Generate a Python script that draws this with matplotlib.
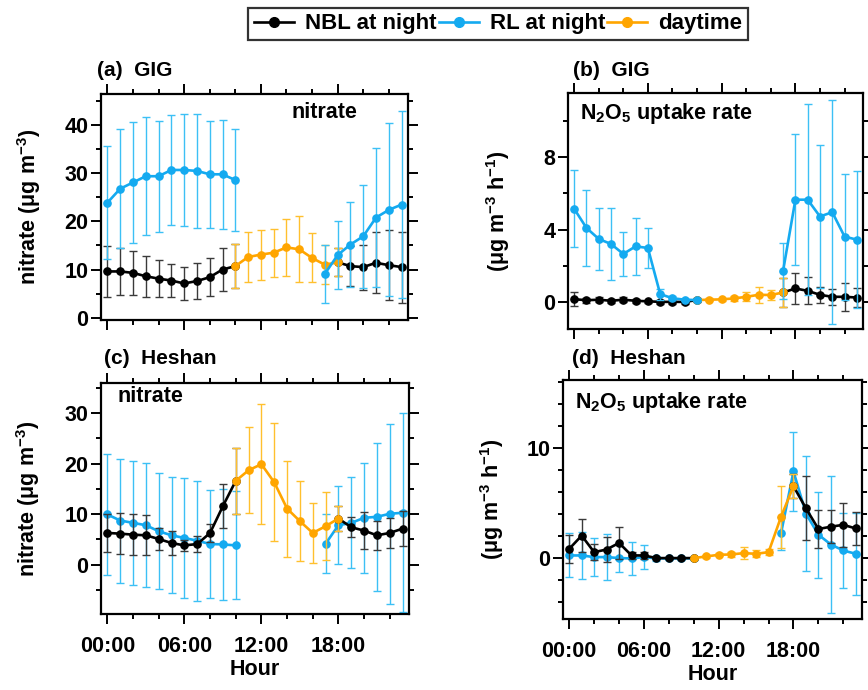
import numpy as np
import matplotlib
matplotlib.use("Agg")
import matplotlib.pyplot as plt
from matplotlib.lines import Line2D
from matplotlib.ticker import MultipleLocator

plt.rcParams["font.family"] = ["Liberation Sans", "DejaVu Sans"]
plt.rcParams["font.weight"] = "bold"
plt.rcParams["axes.labelweight"] = "bold"
plt.rcParams["mathtext.fontset"] = "custom"
plt.rcParams["mathtext.rm"] = "Liberation Sans:bold"
plt.rcParams["mathtext.it"] = "Liberation Sans:bold"
plt.rcParams["mathtext.bf"] = "Liberation Sans:bold"
plt.rcParams["mathtext.sf"] = "Liberation Sans:bold"

nan = np.nan
hours = np.arange(24)

# (a) GIG nitrate
gig_no3_nbl = [9.6, 9.6, 9.3, 8.6, 8.1, 7.7, 7.1, 7.6, 8.4, 10.0, 10.7,
               nan, nan, nan, nan, nan, nan, nan, 11.5, 10.7, 10.5, 11.4, 10.9, 10.5]
gig_no3_nbl_sd = [5.3, 4.8, 4.5, 4.3, 3.8, 3.5, 3.5, 3.8, 4.0, 4.4, 4.6,
                  nan, nan, nan, nan, nan, nan, nan, 2.9, 4.2, 4.7, 6.3, 7.3, 7.4]
gig_no3_rl = [23.9, 26.8, 28.1, 29.4, 29.4, 30.7, 30.7, 30.5, 29.8, 29.8, 28.6,
              nan, nan, nan, nan, nan, nan, 9.1, 13.0, 15.2, 16.9, 20.8, 22.4, 23.5]
gig_no3_rl_sd = [11.8, 12.4, 12.6, 12.3, 11.5, 11.4, 11.7, 11.8, 11.1, 11.3, 10.6,
                 nan, nan, nan, nan, nan, nan, 6.0, 7.1, 8.9, 10.7, 14.4, 18.0, 19.5]
gig_no3_day = [nan] * 10 + [10.7, 12.6, 13.1, 13.5, 14.6, 14.2, 12.4, 11.0, 11.5] + [nan] * 5
gig_no3_day_sd = [nan] * 10 + [4.6, 5.2, 5.2, 5.0, 6.0, 6.9, 5.1, 4.0, 2.9] + [nan] * 5

# (b) GIG N2O5 uptake rate
gig_up_nbl = [0.15, 0.09, 0.12, 0.06, 0.12, 0.06, 0.03, 0.0, 0.0, 0.0, 0.1,
              nan, nan, nan, nan, nan, nan, 0.52, 0.74, 0.61, 0.39, 0.28, 0.28, 0.24]
gig_up_nbl_sd = [0.4, 0.15, 0.15, 0.12, 0.15, 0.1, 0.1, 0.1, 0.1, 0.1, 0.1,
                 nan, nan, nan, nan, nan, nan, 0.8, 0.83, 0.74, 0.46, 0.44, 0.76, 0.5]
gig_up_rl = [5.15, 4.09, 3.48, 3.2, 2.65, 3.07, 2.98, 0.43, 0.2, 0.12, 0.1,
             nan, nan, nan, nan, nan, nan, 1.72, 5.65, 5.65, 4.72, 4.96, 3.61, 3.44]
gig_up_rl_sd = [2.13, 2.08, 1.72, 2.0, 1.2, 1.56, 1.11, 0.3, 0.1, 0.05, 0.05,
                nan, nan, nan, nan, nan, nan, 1.54, 3.63, 5.29, 3.98, 6.2, 3.48, 3.8]
gig_up_day = [nan] * 10 + [0.1, 0.12, 0.14, 0.19, 0.28, 0.39, 0.38, 0.52] + [nan] * 6
gig_up_day_sd = [nan] * 10 + [0.05, 0.08, 0.1, 0.12, 0.25, 0.46, 0.3, 0.82] + [nan] * 6

# (c) Heshan nitrate
hs_no3_nbl = [6.27, 6.13, 5.93, 5.8, 5.07, 4.27, 3.8, 4.07, 6.27, 11.6, 16.6,
              nan, nan, nan, nan, nan, nan, nan, 9.13, 7.4, 6.73, 5.8, 6.27, 7.13]
hs_no3_nbl_sd = [3.8, 4.1, 4.1, 4.0, 2.1, 2.3, 1.1, 1.6, 1.8, 4.3, 6.5,
                 nan, nan, nan, nan, nan, nan, nan, 2.5, 2.0, 3.7, 2.9, 2.9, 3.4]
hs_no3_rl = [9.93, 8.73, 8.27, 7.8, 6.6, 5.8, 5.27, 4.73, 4.07, 4.0, 3.8,
             nan, nan, nan, nan, nan, nan, 4.13, 7.8, 8.27, 9.27, 9.47, 10.07, 10.27]
hs_no3_rl_sd = [11.9, 12.3, 12.3, 12.3, 11.5, 11.5, 11.9, 11.9, 10.7, 11.0, 10.7,
                nan, nan, nan, nan, nan, nan, 5.9, 7.7, 9.0, 10.9, 14.7, 17.8, 19.7]
hs_no3_day = [nan] * 10 + [16.6, 18.7, 19.9, 16.3, 11.1, 8.6, 6.27, 7.6, 9.13] + [nan] * 5
hs_no3_day_sd = [nan] * 10 + [6.5, 8.5, 11.9, 11.7, 9.5, 7.9, 5.9, 6.7, 2.5] + [nan] * 5

# (d) Heshan N2O5 uptake rate
hs_up_nbl = [0.87, 2.07, 0.57, 0.81, 1.41, 0.27, 0.27, 0.03, 0.03, 0.03, 0.03,
             nan, nan, nan, nan, nan, nan, nan, 6.56, 4.55, 2.67, 2.88, 3.05, 2.72]
hs_up_nbl_sd = [1.29, 1.5, 0.75, 1.1, 1.45, 0.3, 0.3, 0.1, 0.1, 0.1, 0.1,
                nan, nan, nan, nan, nan, nan, nan, 1.1, 2.9, 1.7, 1.5, 2.0, 1.5]
hs_up_rl = [0.27, 0.27, 0.12, 0.12, 0.03, 0.0, 0.12, 0.0, 0.0, 0.0, 0.0,
            nan, nan, nan, nan, nan, nan, 2.28, 7.9, 4.07, 2.16, 1.26, 0.72, 0.42]
hs_up_rl_sd = [2.0, 2.1, 1.7, 2.1, 1.3, 1.5, 1.1, 0.2, 0.1, 0.1, 0.1,
               nan, nan, nan, nan, nan, nan, 1.5, 3.6, 5.2, 3.9, 6.2, 3.4, 3.7]
hs_up_day = [nan] * 10 + [0.03, 0.18, 0.33, 0.36, 0.48, 0.42, 0.57, 3.77, 6.56] + [nan] * 5
hs_up_day_sd = [nan] * 10 + [0.05, 0.1, 0.15, 0.2, 0.54, 0.3, 0.3, 2.8, 1.1] + [nan] * 5

BLACK, BLACK_E = "#000000", "#3a3a3a"
BLUE, BLUE_E = "#14aaf0", "#3cc0f5"
ORANGE, ORANGE_E = "#ffa500", "#ffc02e"

W, H = 868, 690
fig = plt.figure(figsize=(W / 100, H / 100), dpi=100)


def box(l, r, t, b):
    return [l / W, 1 - b / H, (r - l) / W, (b - t) / H]


def series(ax, y, sd, c, ec, z):
    y = np.array(y, dtype=float)
    sd = np.nan_to_num(np.array(sd, dtype=float))
    ax.errorbar(hours, y, yerr=sd, fmt="-o", color=c, ecolor=ec, elinewidth=1.0,
                capsize=2.8, capthick=1.0, lw=1.9, ms=5.2, mec=c, zorder=z)


def style(ax, ylim, major, minor, bottom_labels):
    ax.set_xlim(-0.5, 23.5)
    ax.set_ylim(*ylim)
    ax.set_xticks([0, 6, 12, 18])
    ax.set_xticklabels(["00:00", "06:00", "12:00", "18:00"])
    ax.xaxis.set_minor_locator(MultipleLocator(2))
    ax.yaxis.set_major_locator(MultipleLocator(major))
    ax.yaxis.set_minor_locator(MultipleLocator(minor))
    ax.tick_params(which="both", direction="out", top=True, right=True, width=1.4,
                   labelsize=15.5)
    ax.tick_params(which="major", length=7)
    ax.tick_params(which="minor", length=3.5)
    ax.tick_params(axis="y", pad=2)
    ax.tick_params(axis="x", pad=9)
    if not bottom_labels:
        ax.tick_params(axis="x", labelbottom=False)
    else:
        ax.set_xlabel("Hour", fontsize=15.5, labelpad=1)
    for s in ax.spines.values():
        s.set_linewidth(1.6)


ax_a = fig.add_axes(box(101, 408, 94, 320))
series(ax_a, gig_no3_nbl, gig_no3_nbl_sd, BLACK, BLACK_E, 2)
series(ax_a, gig_no3_day, gig_no3_day_sd, ORANGE, ORANGE_E, 3)
series(ax_a, gig_no3_rl, gig_no3_rl_sd, BLUE, BLUE_E, 4)
style(ax_a, (-0.5, 46.5), 10, 5, False)
ax_a.set_ylabel(r"nitrate ($\mu$g m$^{-3}$)", fontsize=15.5)
ax_a.yaxis.set_label_coords(-0.19, 0.5)
ax_a.text(0.62, 0.92, "nitrate", transform=ax_a.transAxes, fontsize=15.5, va="center")

ax_b = fig.add_axes(box(568, 863, 93, 329))
series(ax_b, gig_up_nbl, gig_up_nbl_sd, BLACK, BLACK_E, 2)
series(ax_b, gig_up_day, gig_up_day_sd, ORANGE, ORANGE_E, 3)
series(ax_b, gig_up_rl, gig_up_rl_sd, BLUE, BLUE_E, 4)
style(ax_b, (-1.5, 11.55), 4, 2, False)
ax_b.set_ylabel(r"($\mu$g m$^{-3}$ h$^{-1}$)", fontsize=15.5)
ax_b.yaxis.set_label_coords(-0.19, 0.5)
ax_b.text(0.04, 0.915, r"N$_2$O$_5$ uptake rate", transform=ax_b.transAxes,
          fontsize=15.5, va="center")

ax_c = fig.add_axes(box(101, 409, 383, 614))
series(ax_c, hs_no3_rl, hs_no3_rl_sd, BLUE, BLUE_E, 2)
series(ax_c, hs_no3_nbl, hs_no3_nbl_sd, BLACK, BLACK_E, 3)
series(ax_c, hs_no3_day, hs_no3_day_sd, ORANGE, ORANGE_E, 4)
style(ax_c, (-9.8, 36.0), 10, 5, True)
ax_c.set_ylabel(r"nitrate ($\mu$g m$^{-3}$)", fontsize=15.5)
ax_c.yaxis.set_label_coords(-0.19, 0.5)
ax_c.text(0.052, 0.94, "nitrate", transform=ax_c.transAxes, fontsize=15.5, va="center")

ax_d = fig.add_axes(box(563, 862, 380, 619))
series(ax_d, hs_up_rl, hs_up_rl_sd, BLUE, BLUE_E, 2)
series(ax_d, hs_up_nbl, hs_up_nbl_sd, BLACK, BLACK_E, 3)
series(ax_d, hs_up_day, hs_up_day_sd, ORANGE, ORANGE_E, 4)
style(ax_d, (-5.5, 16.2), 10, 2, True)
ax_d.set_ylabel(r"($\mu$g m$^{-3}$ h$^{-1}$)", fontsize=15.5)
ax_d.yaxis.set_label_coords(-0.19, 0.5)
ax_d.text(0.04, 0.904, r"N$_2$O$_5$ uptake rate", transform=ax_d.transAxes,
          fontsize=15.5, va="center")

fig.text(97 / W, 1 - 70 / H, "(a)  GIG", fontsize=15, va="center")
fig.text(573 / W, 1 - 70 / H, "(b)  GIG", fontsize=15, va="center")
fig.text(104 / W, 1 - 359 / H, "(c)  Heshan", fontsize=15, va="center")
fig.text(572 / W, 1 - 358 / H, "(d)  Heshan", fontsize=15, va="center")

handles = [Line2D([], [], color=BLACK, marker="o", lw=1.9, ms=7),
           Line2D([], [], color=BLUE, marker="o", lw=1.9, ms=7),
           Line2D([], [], color=ORANGE, marker="o", lw=1.9, ms=7)]
leg = fig.legend(handles, ["NBL at night", "RL at night", "daytime"], ncol=3,
                 loc="center", bbox_to_anchor=(498 / W, 1 - 24 / H), fontsize=16,
                 frameon=True, fancybox=False, edgecolor="black", handlelength=1.8,
                 handletextpad=0.5, columnspacing=0.1, borderpad=0.25,
                 borderaxespad=0)
leg.get_frame().set_linewidth(1.6)

fig.savefig("out.png", dpi=100)
